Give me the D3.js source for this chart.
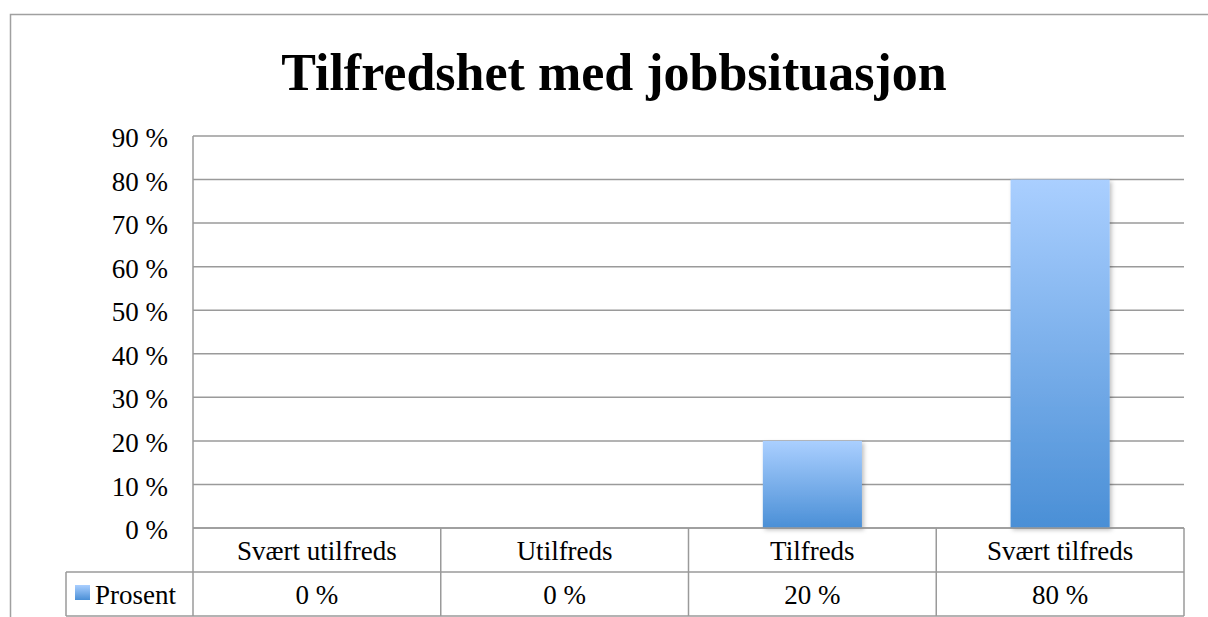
<!DOCTYPE html>
<html>
<head>
<meta charset="utf-8">
<script src="https://cdn.jsdelivr.net/npm/d3@7"></script>
<style>
  body { margin: 0; background: #fff; }
  text { font-family: "Liberation Serif", serif; fill: #000; }
</style>
</head>
<body>
<script>
// data
const categories = ['Svært utilfreds', 'Utilfreds', 'Tilfreds', 'Svært tilfreds']
const values = [0, 0, 0.20, 0.80]
const seriesName = 'Prosent'
const yTicks = [0, 0.1, 0.2, 0.3, 0.4, 0.5, 0.6, 0.7, 0.8, 0.9]
const title = 'Tilfredshet med jobbsituasjon'

const W = 1208, H = 617
const plot = {left: 193, right: 1184, top: 136, bottom: 528}
const rowH = 44
const grid = '#9a9a9a'
const fs = '27px'

const fmt = v => Math.round(v * 100) + ' %'

const svg = d3.select('body').append('svg')
    .attr('width', W)
    .attr('height', H)

const defs = svg.append('defs')
const grad = defs.append('linearGradient')
    .attr('id', 'barGrad')
    .attr('x1', 0).attr('y1', 0).attr('x2', 0).attr('y2', 1)
grad.append('stop').attr('offset', '0%').attr('stop-color', '#aacfff')
grad.append('stop').attr('offset', '100%').attr('stop-color', '#4a8fd6')

const shadow = defs.append('filter').attr('id', 'shadow')
    .attr('x', '-10%').attr('y', '-10%').attr('width', '130%').attr('height', '130%')
shadow.append('feDropShadow')
    .attr('dx', 2).attr('dy', 2).attr('stdDeviation', 2)
    .attr('flood-color', '#000').attr('flood-opacity', 0.25)

// outer frame
svg.append('rect')
    .attr('x', 10.5).attr('y', 14.5)
    .attr('width', W).attr('height', H)
    .attr('fill', 'none').attr('stroke', '#a0a0a0').attr('stroke-width', 1.5)

// title
svg.append('text')
    .attr('x', 614).attr('y', 90)
    .attr('text-anchor', 'middle')
    .style('font-size', '52px')
    .style('font-weight', 'bold')
    .text(title)

const xScale = d3.scaleBand()
    .domain(categories)
    .range([plot.left, plot.right])
    .paddingInner(0.6)
    .paddingOuter(0.3)

const colScale = d3.scaleBand()
    .domain(categories)
    .range([plot.left, plot.right])

const yScale = d3.scaleLinear()
    .domain([0, 0.9])
    .range([plot.bottom, plot.top])

// gridlines
svg.append('g')
    .selectAll('line')
    .data(yTicks)
    .enter()
    .append('line')
      .attr('x1', plot.left).attr('x2', plot.right)
      .attr('y1', d => yScale(d)).attr('y2', d => yScale(d))
      .attr('stroke', grid).attr('stroke-width', 1.5)

// y axis labels
const yAxis = svg.append('g')
    .attr('transform', 'translate(' + (plot.left - 25) + ',2)')
    .call(d3.axisLeft(yScale).tickValues(yTicks).tickFormat(fmt).tickSize(0).tickPadding(0))
yAxis.select('.domain').remove()
yAxis.selectAll('text')
    .style('font-family', '"Liberation Serif", serif')
    .style('font-size', fs)
    .attr('fill', '#000')

// bars
svg.selectAll('.bar').data(values)
    .enter()
    .append('rect')
      .attr('class', 'bar')
      .attr('x', (d, i) => xScale(categories[i]))
      .attr('y', d => yScale(d))
      .attr('width', xScale.bandwidth())
      .attr('height', d => plot.bottom - yScale(d))
      .attr('fill', 'url(#barGrad)')
      .attr('filter', 'url(#shadow)')
      .style('display', d => d > 0 ? null : 'none')

// data table
const table = svg.append('g')
const lineAttrs = sel => sel.attr('stroke', grid).attr('stroke-width', 1.5)

// horizontal lines
table.append('line').call(lineAttrs)
    .attr('x1', plot.left).attr('x2', plot.right)
    .attr('y1', plot.bottom).attr('y2', plot.bottom)
table.append('line').call(lineAttrs)
    .attr('x1', 66).attr('x2', plot.right)
    .attr('y1', plot.bottom + rowH).attr('y2', plot.bottom + rowH)
table.append('line').call(lineAttrs)
    .attr('x1', 66).attr('x2', plot.right)
    .attr('y1', plot.bottom + 2 * rowH).attr('y2', plot.bottom + 2 * rowH)

// vertical lines
const colEdges = categories.map(c => colScale(c)).concat([plot.right])
table.selectAll('.vline').data(colEdges)
    .enter()
    .append('line').call(lineAttrs)
      .attr('x1', d => d).attr('x2', d => d)
      .attr('y1', (d, i) => i === 0 ? plot.top : plot.bottom)
      .attr('y2', plot.bottom + 2 * rowH)
table.append('line').call(lineAttrs)
    .attr('x1', 66).attr('x2', 66)
    .attr('y1', plot.bottom + rowH).attr('y2', plot.bottom + 2 * rowH)

// category labels
table.selectAll('.cat').data(categories)
    .enter()
    .append('text')
      .attr('x', d => colScale(d) + colScale.bandwidth() / 2)
      .attr('y', plot.bottom + 32)
      .attr('text-anchor', 'middle')
      .style('font-size', fs)
      .text(d => d)

// value cells
table.selectAll('.val').data(values)
    .enter()
    .append('text')
      .attr('x', (d, i) => colScale(categories[i]) + colScale.bandwidth() / 2)
      .attr('y', plot.bottom + rowH + 32)
      .attr('text-anchor', 'middle')
      .style('font-size', fs)
      .text(d => fmt(d))

// legend cell
table.append('rect')
    .attr('x', 75).attr('y', plot.bottom + rowH + 13)
    .attr('width', 15).attr('height', 15)
    .attr('fill', 'url(#barGrad)')
table.append('text')
    .attr('x', 95).attr('y', plot.bottom + rowH + 32)
    .style('font-size', fs)
    .text(seriesName)
</script>
</body>
</html>
